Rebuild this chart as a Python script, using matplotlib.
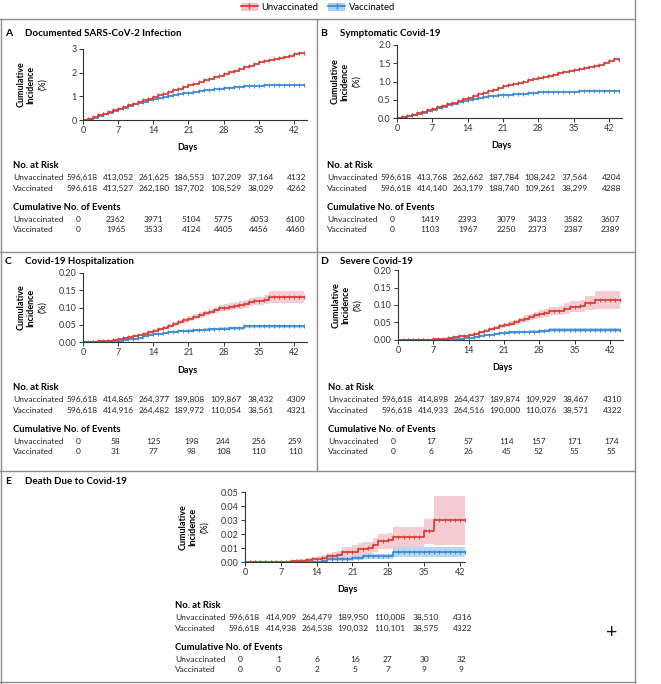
import numpy as np
import matplotlib
matplotlib.use("Agg")
import matplotlib.pyplot as plt
from matplotlib.lines import Line2D
from matplotlib.patches import Patch
from matplotlib import transforms

plt.rcParams['font.family'] = ['Lato', 'DejaVu Sans']

W, H = 661, 684
RED = '#d8413a'
RED_BAND = '#f4c3cb'
BLUE = '#3d8ad4'
BLUE_BAND = '#a8d0f0'
FRAME = '#8c8c8c'

days = np.arange(45)     # day 0..44
days_e = np.arange(44)   # day 0..43 (panel E)
tick_days = [0, 7, 14, 21, 28, 35, 42]

# ---- A: Documented SARS-CoV-2 infection (cumulative incidence, %) ----
a_unvacc = [0, 0.05, 0.12, 0.2, 0.27, 0.34, 0.41, 0.48, 0.55, 0.62, 0.69, 0.76, 0.83, 0.9, 0.97,
            1.04, 1.11, 1.18, 1.25, 1.32, 1.39, 1.46, 1.53, 1.6, 1.67, 1.74, 1.81, 1.88, 1.95,
            2.02, 2.09, 2.16, 2.23, 2.3, 2.37, 2.44, 2.5, 2.54, 2.57, 2.6, 2.65, 2.72, 2.8, 2.85, 2.84]
a_vacc = [0, 0.04, 0.1, 0.17, 0.24, 0.31, 0.38, 0.45, 0.52, 0.59, 0.66, 0.72, 0.78, 0.84, 0.89,
          0.94, 0.99, 1.03, 1.07, 1.1, 1.13, 1.16, 1.19, 1.22, 1.25, 1.27, 1.3, 1.32, 1.34,
          1.36, 1.38, 1.4, 1.42, 1.43, 1.44, 1.45, 1.46, 1.46, 1.47, 1.47, 1.48, 1.48, 1.48, 1.48, 1.48]
a_risk_u = [596618, 413052, 261625, 186553, 107209, 37164, 4132]
a_risk_v = [596618, 413527, 262180, 187702, 108529, 38029, 4262]
a_ev_u = [0, 2362, 3971, 5104, 5775, 6053, 6100]
a_ev_v = [0, 1965, 3533, 4124, 4405, 4456, 4460]

# ---- B: Symptomatic Covid-19 ----
b_unvacc = [0, 0.02, 0.05, 0.09, 0.13, 0.17, 0.22, 0.26, 0.3, 0.34, 0.38, 0.42, 0.46, 0.51, 0.55,
            0.6, 0.65, 0.69, 0.73, 0.78, 0.82, 0.87, 0.9, 0.93, 0.96, 0.99, 1.03, 1.06, 1.09,
            1.12, 1.15, 1.19, 1.22, 1.25, 1.29, 1.32, 1.35, 1.38, 1.41, 1.43, 1.46, 1.5, 1.56, 1.61, 1.6]
b_vacc = [0, 0.02, 0.05, 0.08, 0.11, 0.15, 0.19, 0.23, 0.27, 0.31, 0.35, 0.39, 0.43, 0.46, 0.49,
          0.52, 0.55, 0.57, 0.59, 0.61, 0.62, 0.63, 0.64, 0.65, 0.66, 0.67, 0.68, 0.69, 0.7,
          0.7, 0.71, 0.71, 0.72, 0.72, 0.72, 0.72, 0.73, 0.73, 0.73, 0.74, 0.74, 0.74, 0.74, 0.74, 0.74]
b_risk_u = [596618, 413768, 262662, 187784, 108242, 37564, 4204]
b_risk_v = [596618, 414140, 263179, 188740, 109261, 38299, 4288]
b_ev_u = [0, 1419, 2393, 3079, 3433, 3582, 3607]
b_ev_v = [0, 1103, 1967, 2250, 2373, 2387, 2389]

# ---- C: Covid-19 hospitalization ----
c_unvacc = [0, 0, 0.001, 0.002, 0.003, 0.004, 0.006, 0.008, 0.011, 0.014, 0.017, 0.02, 0.024, 0.028, 0.032,
            0.037, 0.042, 0.047, 0.052, 0.057, 0.063, 0.068, 0.073, 0.078, 0.083, 0.088, 0.093, 0.098, 0.1,
            0.102, 0.105, 0.108, 0.11, 0.115, 0.118, 0.119, 0.122, 0.131, 0.131, 0.131, 0.131, 0.131, 0.131, 0.131, 0.131]
c_unvacc_hw = [0, 0, 0.001, 0.001, 0.001, 0.002, 0.002, 0.002, 0.003, 0.003, 0.003, 0.004, 0.004, 0.004, 0.005,
               0.005, 0.005, 0.006, 0.006, 0.006, 0.007, 0.007, 0.007, 0.008, 0.008, 0.008, 0.009, 0.009, 0.01,
               0.01, 0.01, 0.011, 0.011, 0.012, 0.012, 0.012, 0.013, 0.017, 0.017, 0.017, 0.017, 0.017, 0.017, 0.017, 0.017]
c_vacc = [0, 0, 0, 0.001, 0.001, 0.002, 0.003, 0.004, 0.006, 0.008, 0.01, 0.013, 0.016, 0.019, 0.022,
          0.024, 0.026, 0.028, 0.03, 0.031, 0.032, 0.033, 0.034, 0.035, 0.036, 0.037, 0.038, 0.039, 0.039,
          0.04, 0.04, 0.04, 0.045, 0.045, 0.045, 0.045, 0.045, 0.045, 0.045, 0.045, 0.045, 0.045, 0.045, 0.045, 0.045]
c_vacc_hw = [0, 0, 0, 0.001, 0.001, 0.001, 0.001, 0.001, 0.002, 0.002, 0.002, 0.002, 0.002, 0.003, 0.003,
             0.003, 0.003, 0.003, 0.003, 0.003, 0.004, 0.004, 0.004, 0.004, 0.004, 0.004, 0.004, 0.004, 0.004,
             0.004, 0.004, 0.004, 0.005, 0.005, 0.005, 0.005, 0.005, 0.005, 0.005, 0.005, 0.005, 0.005, 0.005, 0.005, 0.005]
c_risk_u = [596618, 414865, 264377, 189808, 109867, 38432, 4309]
c_risk_v = [596618, 414916, 264482, 189972, 110054, 38561, 4321]
c_ev_u = [0, 58, 125, 198, 244, 256, 259]
c_ev_v = [0, 31, 77, 98, 108, 110, 110]

# ---- D: Severe Covid-19 ----
d_unvacc = [0, 0, 0, 0, 0, 0.0005, 0.001, 0.002, 0.003, 0.004, 0.006, 0.008, 0.01, 0.012, 0.014,
            0.018, 0.022, 0.026, 0.03, 0.035, 0.039, 0.043, 0.047, 0.051, 0.056, 0.061, 0.065, 0.07, 0.074,
            0.077, 0.082, 0.082, 0.084, 0.09, 0.095, 0.095, 0.096, 0.105, 0.106, 0.114, 0.114, 0.114, 0.114, 0.114, 0.114]
d_unvacc_hw = [0, 0, 0, 0, 0, 0.001, 0.001, 0.001, 0.001, 0.002, 0.002, 0.002, 0.002, 0.003, 0.003,
               0.003, 0.004, 0.004, 0.005, 0.005, 0.006, 0.006, 0.007, 0.007, 0.008, 0.009, 0.009, 0.01, 0.011,
               0.011, 0.012, 0.012, 0.013, 0.015, 0.016, 0.016, 0.017, 0.02, 0.021, 0.025, 0.025, 0.025, 0.025, 0.025, 0.025]
d_vacc = [0, 0, 0, 0, 0, 0, 0, 0, 0.0005, 0.001, 0.002, 0.003, 0.004, 0.005, 0.007,
          0.009, 0.011, 0.013, 0.015, 0.017, 0.019, 0.021, 0.022, 0.022, 0.023, 0.023, 0.024, 0.024, 0.025,
          0.026, 0.028, 0.028, 0.028, 0.028, 0.028, 0.028, 0.028, 0.028, 0.028, 0.028, 0.028, 0.028, 0.028, 0.028, 0.028]
d_vacc_hw = [0, 0, 0, 0, 0, 0, 0, 0, 0.001, 0.001, 0.001, 0.001, 0.002, 0.002, 0.002,
             0.002, 0.003, 0.003, 0.003, 0.003, 0.003, 0.004, 0.004, 0.004, 0.004, 0.004, 0.004, 0.004, 0.004,
             0.004, 0.005, 0.005, 0.005, 0.005, 0.005, 0.005, 0.005, 0.005, 0.005, 0.005, 0.005, 0.005, 0.005, 0.005, 0.005]
d_risk_u = [596618, 414898, 264437, 189874, 109929, 38467, 4310]
d_risk_v = [596618, 414933, 264516, 190000, 110076, 38571, 4322]
d_ev_u = [0, 17, 57, 114, 157, 171, 174]
d_ev_v = [0, 6, 26, 45, 52, 55, 55]

# ---- E: Death due to Covid-19 (values plus lower/upper bounds) ----
e_unvacc = [0, 0, 0, 0, 0, 0, 0, 0, 0.0003, 0.0005, 0.001, 0.001, 0.0015, 0.002, 0.0025,
            0.003, 0.004, 0.004, 0.005, 0.007, 0.007, 0.0075, 0.009, 0.0095, 0.01, 0.012, 0.015, 0.015, 0.016,
            0.018, 0.018, 0.018, 0.018, 0.018, 0.018, 0.022, 0.022, 0.03, 0.03, 0.03, 0.03, 0.03, 0.03, 0.03]
e_unvacc_lo = [0, 0, 0, 0, 0, 0, 0, 0, 0, 0, 0, 0, 0, 0, 0.0008,
               0.001, 0.0015, 0.0015, 0.002, 0.0035, 0.0035, 0.004, 0.005, 0.0055, 0.006, 0.0075, 0.009, 0.009, 0.0095,
               0.011, 0.011, 0.011, 0.011, 0.011, 0.011, 0.013, 0.013, 0.012, 0.012, 0.012, 0.012, 0.012, 0.012, 0.012]
e_unvacc_hi = [0, 0, 0, 0, 0, 0, 0, 0, 0.001, 0.0015, 0.002, 0.0025, 0.003, 0.0035, 0.0045,
               0.005, 0.0065, 0.007, 0.008, 0.0105, 0.011, 0.012, 0.0135, 0.014, 0.0145, 0.017, 0.02, 0.02, 0.021,
               0.025, 0.025, 0.025, 0.025, 0.025, 0.025, 0.031, 0.031, 0.047, 0.047, 0.047, 0.047, 0.047, 0.047, 0.047]
e_vacc = [0, 0, 0, 0, 0, 0, 0, 0, 0, 0, 0, 0, 0, 0, 0,
          0.001, 0.002, 0.002, 0.002, 0.002, 0.002, 0.003, 0.003, 0.004, 0.004, 0.004, 0.004, 0.004, 0.004,
          0.007, 0.007, 0.007, 0.007, 0.007, 0.007, 0.007, 0.007, 0.007, 0.007, 0.007, 0.007, 0.007, 0.007, 0.007]
e_vacc_lo = [0, 0, 0, 0, 0, 0, 0, 0, 0, 0, 0, 0, 0, 0, 0,
             0.0002, 0.0008, 0.0008, 0.0008, 0.0008, 0.0008, 0.0012, 0.0012, 0.002, 0.002, 0.002, 0.002, 0.002, 0.002,
             0.0038, 0.0038, 0.0038, 0.0038, 0.0038, 0.0038, 0.0038, 0.0038, 0.0038, 0.0038, 0.0038, 0.0038, 0.0038, 0.0038, 0.0038]
e_vacc_hi = [0, 0, 0, 0, 0, 0, 0, 0, 0, 0, 0, 0, 0, 0, 0,
             0.002, 0.0035, 0.0035, 0.0035, 0.0035, 0.0035, 0.005, 0.005, 0.006, 0.006, 0.006, 0.006, 0.006, 0.006,
             0.011, 0.011, 0.011, 0.011, 0.011, 0.011, 0.011, 0.011, 0.011, 0.011, 0.011, 0.011, 0.011, 0.011, 0.011]
e_risk_u = [596618, 414909, 264479, 189950, 110008, 38510, 4316]
e_risk_v = [596618, 414938, 264538, 190032, 110101, 38575, 4322]
e_ev_u = [0, 1, 6, 16, 27, 30, 32]
e_ev_v = [0, 0, 2, 5, 7, 9, 9]

fig = plt.figure(figsize=(W / 100, H / 100), dpi=100)
fig.patch.set_facecolor('white')


def fx(px):
    return px / W


def fy(py):
    return 1 - py / H


def fmt(v):
    return f"{v:,}" if v >= 10000 else str(v)


def frame_line(x0, y0, x1, y1):
    fig.add_artist(Line2D([fx(x0), fx(x1)], [fy(y0), fy(y1)], transform=fig.transFigure,
                          color=FRAME, lw=1.0))


def panel(letter, title, title_x, title_y, left, right, y0, top, xmax, ymax, yticks, yfmt,
          curves, risk, events, table_y):
    ax = fig.add_axes([fx(left), fy(y0), fx(right) - fx(left), fy(top) - fy(y0)])
    # curves: list of (x, vals, lo, hi, color, band)
    for x, vals, lo, hi, color, band in curves:
        if lo is not None:
            ax.fill_between(x, lo, hi, step='post', color=band, lw=0, alpha=0.85)
    for x, vals, lo, hi, color, band in curves[::-1]:
        ax.plot(x, vals, drawstyle='steps-post', color=color, lw=1.3,
                marker='|', ms=2.5, mew=0.7)
    ax.set_xlim(0, xmax)
    ax.set_ylim(0, ymax)
    ax.set_xticks(tick_days)
    ax.set_yticks(yticks)
    ax.set_yticklabels([yfmt.format(t) for t in yticks])
    for s in ['top', 'right']:
        ax.spines[s].set_visible(False)
    for s in ['left', 'bottom']:
        ax.spines[s].set_linewidth(0.8)
        ax.spines[s].set_color('#333333')
    ax.tick_params(labelsize=6.5, length=3, width=0.7, pad=1.5, colors='#333333')
    ax.patch.set_alpha(0)

    # title
    fig.text(fx(title_x), fy(title_y), letter, fontsize=7.5, fontweight='bold', va='center')
    fig.text(fx(title_x + 20), fy(title_y), title, fontsize=7, fontweight='bold', va='center')

    # axis labels
    fig.text(fx((left + right) / 2 - 8), fy(y0 + 28), "Days", fontsize=6.5, fontweight='bold',
             ha='center', va='center')
    ymid = (y0 + top) / 2
    fig.text(fx(left - 57), fy(ymid), "Cumulative\nIncidence", fontsize=6.5, fontweight='bold',
             rotation=90, ha='center', va='center', linespacing=1.0)
    fig.text(fx(left - 40), fy(ymid), "(%)", fontsize=6.5, rotation=90, ha='center', va='center')

    # tables under the plot
    tr = transforms.blended_transform_factory(ax.transData, fig.transFigure)
    lab_x = fx(left - 70)
    offs = [0, 12, 23.5, 43, 54, 65]
    fig.text(lab_x, fy(table_y + offs[0]), "No. at Risk", fontsize=6.8, fontweight='bold', va='center')
    fig.text(lab_x, fy(table_y + offs[3]), "Cumulative No. of Events", fontsize=6.8,
             fontweight='bold', va='center')
    risk_cols = [-0.2, 7.1, 14.2, 21.1, 28.4, 35.3, 42.5]
    event_cols = [-1, 6.5, 14, 21.6, 27.9, 35, 42.3]
    rows = [(offs[1], "Unvaccinated", risk[0], risk_cols),
            (offs[2], "Vaccinated", risk[1], risk_cols),
            (offs[4], "Unvaccinated", events[0], event_cols),
            (offs[5], "Vaccinated", events[1], event_cols)]
    for off, name, vals, cols in rows:
        fig.text(lab_x, fy(table_y + off), name, fontsize=6.0, va='center', color='#222222')
        for c, v in zip(cols, vals):
            ax.text(c, fy(table_y + off), fmt(v), transform=tr, fontsize=6.0, ha='center',
                    va='center', color='#222222')
    return ax


def kmcurve(x, vals, hw, color, band):
    vals = np.array(vals)
    if hw is None:
        return (x, vals, None, None, color, band)
    hw = np.array(hw)
    return (x, vals, np.clip(vals - hw, 0, None), vals + hw, color, band)


panel("A", "Documented SARS-CoV-2 Infection", 5, 33, 83, 307, 120, 49, 44.6, 3,
      [0, 1, 2, 3], "{:.0f}",
      [kmcurve(days, a_unvacc, None, RED, RED_BAND), kmcurve(days, a_vacc, None, BLUE, BLUE_BAND)],
      (a_risk_u, a_risk_v), (a_ev_u, a_ev_v), 165)

panel("B", "Symptomatic Covid-19", 320, 33, 397, 622, 118, 45, 44.6, 2.0,
      [0, 0.5, 1.0, 1.5, 2.0], "{:.1f}",
      [kmcurve(days, b_unvacc, None, RED, RED_BAND), kmcurve(days, b_vacc, None, BLUE, BLUE_BAND)],
      (b_risk_u, b_risk_v), (b_ev_u, b_ev_v), 165)

panel("C", "Covid-19 Hospitalization", 5, 261, 83, 307, 342, 273, 44.6, 0.20,
      [0, 0.05, 0.10, 0.15, 0.20], "{:.2f}",
      [kmcurve(days, c_unvacc, c_unvacc_hw, RED, RED_BAND), kmcurve(days, c_vacc, c_vacc_hw, BLUE, BLUE_BAND)],
      (c_risk_u, c_risk_v), (c_ev_u, c_ev_v), 387)

panel("D", "Severe Covid-19", 320, 261, 398, 623, 340, 270, 44.6, 0.20,
      [0, 0.05, 0.10, 0.15, 0.20], "{:.2f}",
      [kmcurve(days, d_unvacc, d_unvacc_hw, RED, RED_BAND), kmcurve(days, d_vacc, d_vacc_hw, BLUE, BLUE_BAND)],
      (d_risk_u, d_risk_v), (d_ev_u, d_ev_v), 387)

panel("E", "Death Due to Covid-19", 5, 481, 245, 465, 562, 492, 43, 0.05,
      [0, 0.01, 0.02, 0.03, 0.04, 0.05], "{:.2f}",
      [(days_e, np.array(e_unvacc), np.array(e_unvacc_lo), np.array(e_unvacc_hi), RED, RED_BAND),
       (days_e, np.array(e_vacc), np.array(e_vacc_lo), np.array(e_vacc_hi), BLUE, BLUE_BAND)],
      (e_risk_u, e_risk_v), (e_ev_u, e_ev_v), 605)

# panel frames
frame_line(0, 19, 635, 19)
frame_line(635, 0, 635, 684)
frame_line(1, 19, 1, 684)
frame_line(317, 19, 317, 471)
frame_line(0, 252, 635, 252)
frame_line(0, 471, 635, 471)
frame_line(0, 682, 635, 682)

# legend at the top
handles = [(Patch(facecolor=RED_BAND, edgecolor='none'), Line2D([], [], color=RED, lw=1.3, marker='|', ms=5)),
           (Patch(facecolor=BLUE_BAND, edgecolor='none'), Line2D([], [], color=BLUE, lw=1.3, marker='|', ms=5))]
fig.legend(handles, ["Unvaccinated", "Vaccinated"], loc='center', bbox_to_anchor=(fx(318), fy(7.5)),
           ncol=2, frameon=False, fontsize=6.8, handlelength=1.8, handleheight=0.9,
           columnspacing=1.0, handletextpad=0.4)

# zoom control from the page viewer
fig.text(fx(612), fy(633), "+", fontsize=14, ha='center', va='center', color='#111111')

fig.savefig("out.png", dpi=100)
